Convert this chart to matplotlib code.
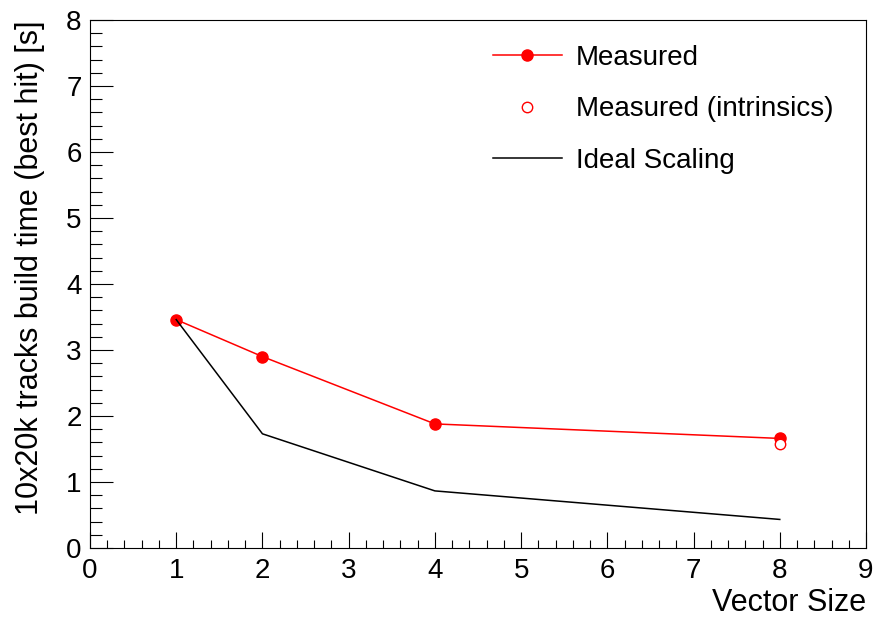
import matplotlib
matplotlib.use("Agg")
import matplotlib.pyplot as plt
from matplotlib.ticker import MultipleLocator

plt.rcParams['font.family'] = ['Liberation Sans', 'DejaVu Sans']

# build times [s] vs. vector width
vec_size = [1, 2, 4, 8]
measured = [3.46, 2.90, 1.88, 1.66]
intrinsics_size = [8]
intrinsics = [1.57]
ideal_size = [1, 2, 4, 8]
ideal = [3.46, 1.73, 0.865, 0.4325]

fig = plt.figure(figsize=(8.79, 6.18), dpi=100)
ax = fig.add_axes([0.1024, 0.1133, 0.8828, 0.8543])

ax.plot(vec_size, measured, color='#ff0000', lw=1.1, marker='o',
        ms=8, mec='#ff0000', mfc='#ff0000', label='Measured')
ax.plot(intrinsics_size, intrinsics, ls='none', marker='o', ms=7.5,
        mec='#ff0000', mfc='white', mew=1.0, label='Measured (intrinsics)')
ax.plot(ideal_size, ideal, color='black', lw=1.1, label='Ideal Scaling')

ax.set_xlim(0, 9)
ax.set_ylim(0, 8)
ax.xaxis.set_major_locator(MultipleLocator(1))
ax.xaxis.set_minor_locator(MultipleLocator(0.2))
ax.yaxis.set_major_locator(MultipleLocator(1))
ax.yaxis.set_minor_locator(MultipleLocator(0.2))

ax.tick_params(which='both', direction='in', top=False, right=False,
               width=0.8, labelsize=20)
ax.tick_params(axis='x', which='major', length=11.5, pad=7)
ax.tick_params(axis='x', which='minor', length=5.8)
ax.tick_params(axis='y', which='major', length=16.5, pad=6)
ax.tick_params(axis='y', which='minor', length=8.3)
for s in ax.spines.values():
    s.set_linewidth(0.8)

ax.set_xlabel('Vector Size', fontsize=22, loc='right', labelpad=3)
ax.set_ylabel('10x20k tracks build time (best hit) [s]', fontsize=22,
              loc='top', labelpad=15)

ax.legend(loc='upper left', bbox_to_anchor=(0.519, 0.953), frameon=False,
          fontsize=20, handlelength=2.5, handletextpad=0.5,
          labelspacing=0.92, borderpad=0, borderaxespad=0, numpoints=1)

fig.savefig('out.png', dpi=100)
